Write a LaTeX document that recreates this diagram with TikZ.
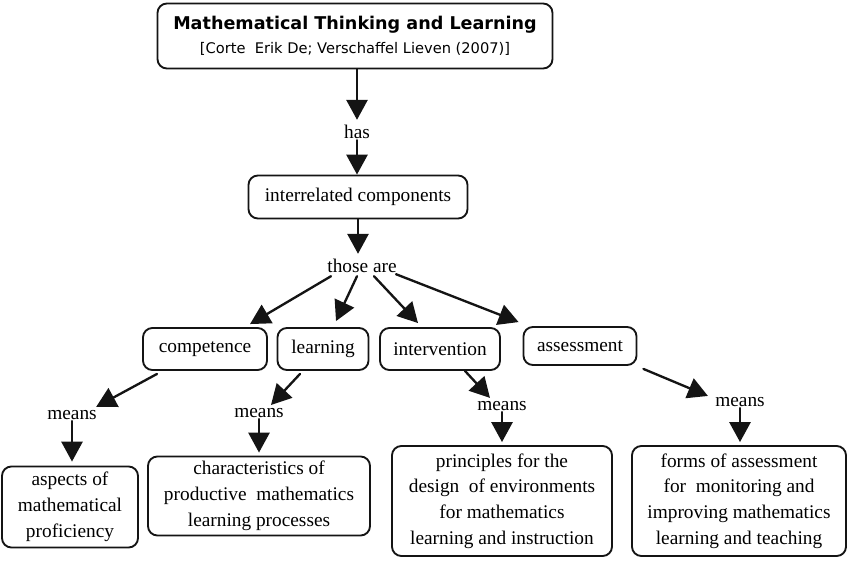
\documentclass[tikz,border=0pt]{standalone}
\usepackage{fontspec}
\setmainfont{Liberation Serif}
\newfontfamily\headfont{DejaVu Sans}
\usetikzlibrary{arrows.meta,positioning,shapes,calc}
\definecolor{cmInk}{RGB}{20,20,20}

\begin{document}
\begin{tikzpicture}[x=0.03cm, y=-0.03cm, line cap=round, line join=round,
    box/.style={draw=cmInk, line width=1.6pt, rounded corners=8pt, align=center, inner sep=2pt, font=\fontsize{16.5}{22}\selectfont},
    lbl/.style={inner sep=1pt, font=\fontsize{16.5}{22}\selectfont},
    arr/.style={draw=cmInk, line width=2pt, -{Triangle[length=17pt,width=18pt]}}]
        \useasboundingbox (0,0) rectangle (850,562);
        % head of the map
        \node[box, font=\headfont\fontsize{12.5}{20.5}\selectfont, minimum width=11.85cm, minimum height=1.95cm] (top) at (355,36)
            {{\fontsize{15}{20.5}\selectfont\bfseries Mathematical Thinking and Learning}\\{[Corte\ \ Erik De; Verschaffel Lieven (2007)]}};
        \node[lbl] (has) at (357,132) {has};
        \node[box, minimum width=6.57cm, minimum height=1.29cm] (comps) at (358,197) {interrelated components};
        \node[lbl] (those) at (362,266) {those are};
        % the four components
        \node[box, minimum width=3.72cm, minimum height=1.26cm] (comp) at (205,349) {competence};
        \node[box, minimum width=2.73cm, minimum height=1.26cm] (learn) at (323,349) {learning};
        \node[box, minimum width=3.6cm, minimum height=1.26cm] (interv) at (440,349) {intervention};
        \node[box, minimum width=3.39cm, minimum height=1.14cm] (assess) at (580,346) {assessment};
        \node[lbl] (m1) at (72,415) {means};
        \node[lbl] (m2) at (259,413) {means};
        \node[lbl] (m3) at (502,406) {means};
        \node[lbl] (m4) at (740,402) {means};
        % what they mean
        \node[box, minimum width=4.08cm, minimum height=2.43cm] (a1) at (70,507) {aspects of\\mathematical\\proficiency};
        \node[box, minimum width=6.66cm, minimum height=2.37cm] (a2) at (259,496) {characteristics of\\productive\ \ mathematics\\learning processes};
        \node[box, minimum width=6.6cm, minimum height=3.3cm] (a3) at (502,501) {principles for the\\design\ \ of environments\\for mathematics\\learning and instruction};
        \node[box, minimum width=6.42cm, minimum height=3.3cm] (a4) at (739,501) {forms of assessment\\for\ \ monitoring and\\improving mathematics\\learning and teaching};

        \draw[arr] (top.south -| has) -- ($(has.north)+(0,-4)$);
        \draw[arr] (has.south) -- (has.south |- comps.north);
        \draw[arr] (comps.south) -- ($(comps.south |- those.north)+(0,-4)$);
        \draw[arr] ($(those.south)+(-31,2)$) -- ($(comp.north)+(45,-3)$);
        \draw[arr] ($(those.south)+(-5,2)$) -- ($(learn.north)+(13,-6)$);
        \draw[arr] ($(those.south)+(12,2)$) -- ($(interv.north)+(-22,-4)$);
        \draw[arr] ($(those.south)+(34,0)$) -- ($(assess.north west)+(-4,-4)$);
        \draw[arr] ($(comp.south)+(-48,3)$) -- ($(m1.north east)+(-2,-2)$);
        \draw[arr] ($(learn.south)+(-23,3)$) -- ($(m2.north)+(12,-2)$);
        \draw[arr] ($(interv.south)+(25,0)$) -- ($(m3.north)+(-12,-2)$);
        \draw[arr] ($(assess.south east)+(6,3)$) -- ($(m4.north west)+(-6,0)$);
        \draw[arr] (m1.south) -- ($(m1.south |- a1.north)+(0,-4)$);
        \draw[arr] (m2.south) -- ($(m2.south |- a2.north)+(0,-3)$);
        \draw[arr] (m3.south) -- ($(m3.south |- a3.north)+(0,-3)$);
        \draw[arr] (m4.south) -- ($(m4.south |- a4.north)+(0,-3)$);
    \end{tikzpicture}
\end{document}
